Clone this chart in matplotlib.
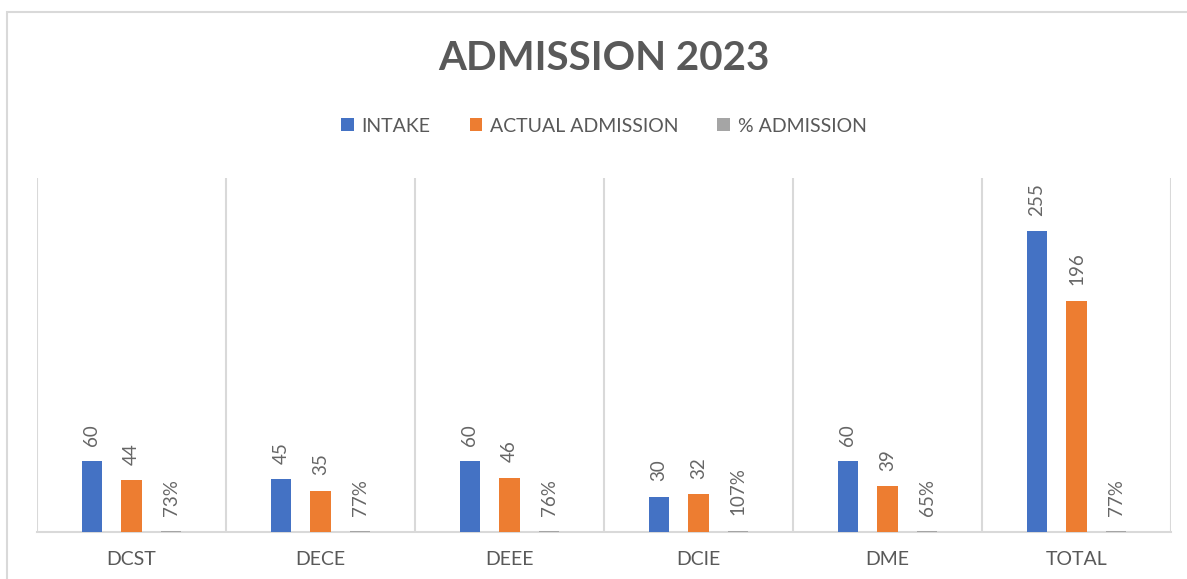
import numpy as np
import matplotlib
matplotlib.use("Agg")
import matplotlib.pyplot as plt
from matplotlib.patches import Patch, Rectangle

categories = ["DCST", "DECE", "DEEE", "DCIE", "DME", "TOTAL"]
intake = [60, 45, 60, 30, 60, 255]
actual = [44, 35, 46, 32, 39, 196]
pct_admission = [0.73, 0.77, 0.76, 1.07, 0.65, 0.77]

series_names = ["INTAKE", "ACTUAL ADMISSION", "% ADMISSION"]
colors = ["#4472C4", "#ED7D31", "#A5A5A5"]
text_color = "#595959"
grid_color = "#D9D9D9"

plt.rcParams['font.family'] = ['Lato', 'DejaVu Sans']


def main():
    fig = plt.figure(figsize=(11.87, 5.79), dpi=100)
    ax = fig.add_axes([37 / 1187, 1 - 532 / 579, (1171 - 37) / 1187, (532 - 178) / 579])

    x_pos = np.arange(len(categories))
    width = 0.108
    offset = 0.209

    series = [intake, actual, pct_admission]
    for i, values in enumerate(series):
        xs = x_pos + (i - 1) * offset
        ax.bar(xs, values, width=width, color=colors[i], zorder=3)
        for x, v in zip(xs, values):
            label = "{:.0f}%".format(v * 100) if i == 2 else str(v)
            ax.annotate(label, (x, v), xytext=(0, 11), textcoords='offset points',
                        rotation=90, ha='center', va='bottom',
                        fontsize=13.5, color="#666666")

    ax.set_xlim(-0.5, len(categories) - 0.5)
    ax.set_ylim(0, 300)
    ax.set_yticks([])
    ax.set_xticks(x_pos)
    ax.set_xticklabels(categories, fontsize=14, color=text_color)
    ax.tick_params(axis='x', length=0, pad=14)

    # category separators
    for b in np.arange(-0.5, len(categories), 1.0):
        ax.axvline(b, color=grid_color, lw=1.5, zorder=1)

    for side in ['top', 'right', 'left']:
        ax.spines[side].set_visible(False)
    ax.spines['bottom'].set_color(grid_color)
    ax.spines['bottom'].set_linewidth(1.5)

    cx = (37 + 1171) / 2 / 1187
    fig.text(cx, 1 - 59 / 579, "ADMISSION 2023", ha='center', va='center',
             fontsize=29, fontweight='bold', color=text_color)

    handles = [Patch(facecolor=c, edgecolor='none') for c in colors]
    leg = fig.legend(handles, series_names, loc='center', ncol=3,
                     bbox_to_anchor=(cx, 1 - 126 / 579), frameon=False,
                     fontsize=14, handlelength=0.65, handleheight=0.65,
                     handletextpad=0.4, columnspacing=2.0)
    for t in leg.get_texts():
        t.set_color(text_color)

    fig.patches.append(Rectangle((7 / 1187, -0.1), 1.1, 1.1 - 12 / 579,
                                 transform=fig.transFigure, fill=False,
                                 edgecolor=grid_color, lw=1.5))

    plt.savefig("out.png", dpi=100)


if __name__ == "__main__":
    main()
